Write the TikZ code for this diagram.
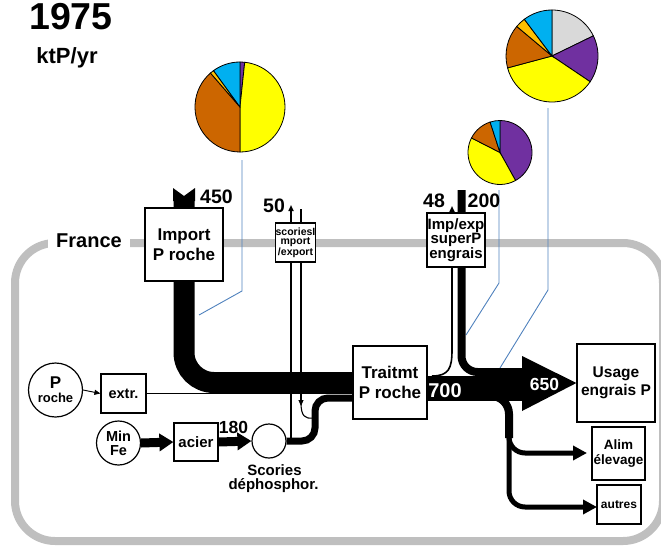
\documentclass[tikz,border=0pt]{standalone}
\usepackage{fontspec}
\setmainfont{Liberation Sans}
\usetikzlibrary{arrows.meta}
\definecolor{frameg}{RGB}{191,191,191}
\definecolor{pyel}{RGB}{255,255,0}
\definecolor{porg}{RGB}{204,102,0}
\definecolor{pgold}{RGB}{255,192,0}
\definecolor{pcyan}{RGB}{0,176,240}
\definecolor{ppur}{RGB}{112,48,160}
\definecolor{pgray}{RGB}{217,217,217}
\definecolor{lblue}{RGB}{79,129,189}
\newcommand{\fs}[2]{\fontsize{#1}{#2}\selectfont\bfseries}
\newcommand{\mypie}[6]{\filldraw[fill=#6,draw=black,line width=0.8pt] (#1,#2) -- ++(#4:#3) arc[start angle=#4, end angle=#5, radius=#3] -- cycle;}
\begin{document}
\begin{tikzpicture}[x=1pt,y=-1pt,
  box/.style={draw=black, line width=1.2pt, fill=white, inner sep=0pt, align=center},
  circ/.style={circle, draw=black, line width=1.2pt, fill=white, inner sep=0pt, align=center},
  lbl/.style={inner sep=0pt, anchor=base},
  blueline/.style={draw=lblue, line width=0.9pt},
  thin/.style={line width=#1, draw=black},
  smalltip/.style={-{Triangle[length=6pt,width=5pt]}},
  bigtip/.style={-{Triangle[length=14pt,width=17pt]}},
  midtip/.style={-{Triangle[length=14pt,width=14pt]}}
]
\useasboundingbox (0,0) rectangle (661,546);
% France frame
\draw[frameg, line width=8pt, rounded corners=40pt] (15,243) rectangle (663,541);
\node[lbl, fill=white, inner xsep=8pt, inner ysep=3pt, font=\fs{20}{20}] (fr) at (89,247) {France};
% title
\node[lbl, font=\fs{37.5}{37.5}] (yr) at (71,29.5) {1975};
\node[lbl, font=\fs{22}{22}] (unit) at (67,63) {ktP/yr};
% blue leader lines
\draw[blueline] (242,160) -- (242,291) -- (199,315);
\draw[blueline] (499,190) -- (499,283) -- (466,335);
\draw[blueline] (548,108) -- (548,290) -- (500,368);
% pies
\mypie{240}{107}{45}{-84}{-90}{ppur}
\mypie{240}{107}{45}{90}{-84}{pyel}
\mypie{240}{107}{45}{-131}{-270}{porg}
\mypie{240}{107}{45}{-126}{-131}{pgold}
\mypie{240}{107}{45}{-90}{-126}{pcyan}
\mypie{500}{152.5}{32}{61}{-90}{ppur}
\mypie{500}{152.5}{32}{-153}{-299}{pyel}
\mypie{500}{152.5}{32}{-108}{-153}{porg}
\mypie{500}{152.5}{32}{-90}{-108}{pcyan}
\mypie{552}{56}{46}{-26}{-90}{pgray}
\mypie{552}{56}{46}{34}{-26}{ppur}
\mypie{552}{56}{46}{-195}{-326}{pyel}
\mypie{552}{56}{46}{-140}{-195}{porg}
\mypie{552}{56}{46}{-127}{-140}{pgold}
\mypie{552}{56}{46}{-90}{-127}{pcyan}
% nodes (positions)
\coordinate (tail) at (184,199);
\coordinate (split) at (509,432);
\coordinate (sc50) at (291,441);
\coordinate (ex50) at (291,205);
\coordinate (im50) at (301,209);
\coordinate (im50b) at (301,406);
\coordinate (ex48) at (452,206);
\coordinate (j48) at (432,376);
\node[circ, minimum size=54pt] (proche) at (55.5,390) {};
\node[box, minimum width=45pt, minimum height=39pt, font=\fs{14.5}{14}] (extr) at (123.5,393.5) {extr.};
\node[box, minimum width=74pt, minimum height=73pt, font=\fs{17}{20}] (traitmt) at (390,382.5) {Traitmt\\P roche};
\node[circ, minimum size=34pt] (scor) at (269,441) {};
% flows
\draw[line width=1pt] (extr.east) -- (traitmt.west |- extr.east);
\draw[thin=0.9pt, smalltip] (proche.east) -- (extr.west);
\draw[line width=21pt, rounded corners=30pt] (tail) |- (traitmt.west);
\fill (173,188) -- (184,196) -- (195,188) -- (195,201) -- (173,201) -- cycle;
\draw[line width=7pt, rounded corners=13pt] (scor.east) -- (315,441) -- (315,398) -- (353,398);
\draw[thin=1.6pt, smalltip] (sc50) -- (ex50);
\draw[thin=1.1pt, smalltip] (im50) -- (im50b);
\draw[thin=1.1pt] (301,403) .. controls (301,416) and (305,419) .. (313,418);
\draw[line width=8pt, rounded corners=16pt] (461.5,190) -- (461.5,372) -- (523,372);
\draw[line width=25pt] (426,388.5) -- (523,388.5);
\draw[line width=8pt, rounded corners=18pt] (475,396) -- (509,396) -- (509,438);
\draw[line width=5pt, rounded corners=16pt, midtip, shorten >=5pt] (split) |- (592,453);
\draw[line width=5pt, rounded corners=16pt, midtip] (split) |- (597,507);
\draw[thin=1.6pt, smalltip] (j48) .. controls (449,376) and (452,368) .. (452,350) -- (ex48);
% boxes
\node[box, minimum width=78pt, minimum height=73pt, font=\fs{17}{20}] (import) at (184,244.5) {Import\\P roche};
\node[box, minimum width=39pt, minimum height=39pt, font=\fs{10.5}{9}] (scimp) at (295.5,242.5) {scoriesI\\mport\\/export};
\node[box, minimum width=58pt, minimum height=54pt, font=\fs{15}{12.5}] (impexp) at (456,240) {Imp/exp\\superP\\engrais};
\node[box, minimum width=78pt, minimum height=78pt, font=\fs{15.5}{18}] (usage) at (616,383) {Usage\\engrais P};
\node[box, minimum width=53pt, minimum height=53pt, font=\fs{13.5}{15}] (alim) at (618.5,453.5) {Alim\\élevage};
\node[box, minimum width=44pt, minimum height=39pt, font=\fs{12}{12}] (autres) at (619,504.5) {autres};
\node[box, minimum width=44pt, minimum height=38pt, font=\fs{15}{15}] (acier) at (196,442) {acier};
\node[circ, minimum size=44pt, font=\fs{14.5}{14}] (minfe) at (118.5,443) {Min\\Fe};
\node[inner sep=0pt, align=center, font=\bfseries\fontsize{13}{14}\selectfont] (prochetxt) at (proche.center) {{\fontsize{17}{14}\selectfont P}\\roche};
\fill (522,356) -- (usage.west) -- (522,411) -- cycle;
\draw[line width=9pt, bigtip] (minfe.east) -- (acier.west);
\draw[line width=9pt, bigtip] (acier.east) -- (scor.west);
% labels
\node[lbl, font=\fs{19.5}{19.5}] (v450) at (216.5,203) {450};
\node[lbl, font=\fs{19.5}{19.5}] (v50) at (274,212) {50};
\node[lbl, font=\fs{19.5}{19.5}] (v48) at (434,207) {48};
\node[lbl, font=\fs{19.5}{19.5}] (v200) at (484,207) {200};
\node[lbl, font=\fs{17.5}{17.5}] (v180) at (233.5,433) {180};
\node[lbl, font=\fs{20}{20}, text=white] (v700) at (445,397) {700};
\node[lbl, font=\fs{17.5}{17.5}, text=white] (v650) at (544.5,390) {650};
\node[lbl, font=\fs{15}{15}] (sc1) at (274.5,475) {Scories};
\node[lbl, font=\fs{15}{15}] (sc2) at (273.5,489) {déphosphor.};
\end{tikzpicture}
\end{document}
